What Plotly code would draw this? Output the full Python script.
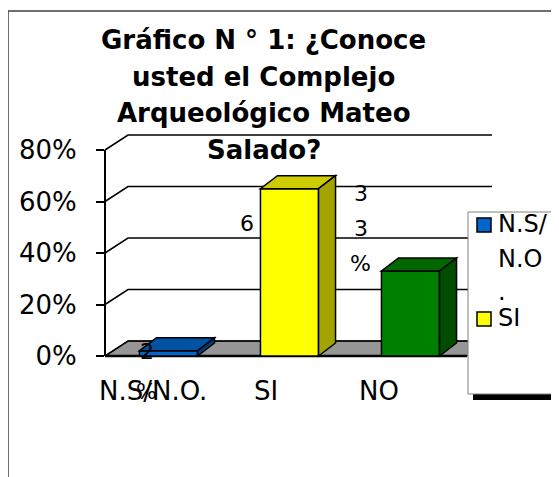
import plotly.graph_objects as go

# ---------------- data ----------------
CATEGORIES = ["N.S/N.O.", "SI", "NO"]
VALUES = [2, 65, 33]                      # percent
Y_TICKS = [0, 20, 40, 60, 80]
TITLE_LINES = ["Gráfico N ° 1: ¿Conoce", "usted el Complejo", "Arqueológico Mateo", "Salado?"]
LEGEND_ITEMS = ["N.S/N.O.", "SI"]          # the visible legend entries (NO is cut off)

# ---------------- style ----------------
FRONT = ["#0066CC", "#FFFF00", "#008000"]
TOP = ["#0052A3", "#CCCC00", "#006600"]
SIDE = ["#003D7A", "#A3A300", "#004D00"]
FLOOR = "#969696"
FONT = "DejaVu Sans"

OFF = 8                                   # page body margin of the browser
W, H = 559 - OFF, 477 - OFF
PLOT_L, PLOT_R, PLOT_T, PLOT_B = 105, 492, 110, 360   # window pixels
Y0_PX, PX_PER_PCT = 356, 2.575
CAT0_PX, PX_PER_CAT = 168.5, 121
BAR_W = 0.48
BAR_DX, BAR_DY = 17 / PX_PER_CAT, 13 / PX_PER_PCT
WALL_DX_PX, WALL_DY = 23, 15 / PX_PER_PCT

def px_x(px):  # window pixel -> paper x
    return (px - PLOT_L) / (PLOT_R - PLOT_L)

def px_y(py):  # window pixel -> paper y
    return (PLOT_B - py) / (PLOT_B - PLOT_T)

x_range = [(PLOT_L - CAT0_PX) / PX_PER_CAT, (PLOT_R - CAT0_PX) / PX_PER_CAT]
y_range = [(Y0_PX - PLOT_B) / PX_PER_PCT, (Y0_PX - PLOT_T) / PX_PER_PCT]

fig = go.Figure()
xs = list(range(len(CATEGORIES)))
fig.add_trace(go.Bar(
    x=xs, y=VALUES, width=BAR_W,
    marker=dict(color=FRONT, line=dict(color="black", width=1.5)),
    hoverinfo="skip", showlegend=False,
))

shapes = []
# chart border
shapes.append(dict(type="rect", xref="paper", yref="paper",
                   x0=px_x(8), x1=px_x(640), y0=px_y(11), y1=px_y(560),
                   line=dict(color="#404040", width=1.5), fillcolor="rgba(0,0,0,0)", layer="below"))
# floor
wdx = px_x(PLOT_L + WALL_DX_PX)
fl_r_front, fl_r_back = px_x(467), px_x(490)
shapes.append(dict(type="path", xref="paper", yref="y",
                   path=f"M 0,0 L {wdx},{WALL_DY} L {fl_r_back},{WALL_DY} L {fl_r_front},0 Z",
                   fillcolor=FLOOR, line=dict(color="black", width=1), layer="below"))
# back-wall gridlines with side-wall diagonals
for t in Y_TICKS:
    shapes.append(dict(type="path", xref="paper", yref="y",
                       path=f"M 0,{t} L {wdx},{t + WALL_DY} L 1,{t + WALL_DY}",
                       line=dict(color="black", width=1.5), layer="below"))
# front value axis and floor front edge
shapes.append(dict(type="line", xref="paper", yref="y", x0=0, x1=0, y0=0, y1=Y_TICKS[-1],
                   line=dict(color="black", width=2), layer="below"))
shapes.append(dict(type="line", xref="paper", yref="y", x0=0, x1=fl_r_front, y0=0, y1=0,
                   line=dict(color="black", width=2.5), layer="below"))

# 3-D faces of bars
for i, v in enumerate(VALUES):
    l, r = i - BAR_W / 2, i + BAR_W / 2
    shapes.append(dict(type="path", xref="x", yref="y",
                       path=f"M {l},{v} L {r},{v} L {r + BAR_DX},{v + BAR_DY} L {l + BAR_DX},{v + BAR_DY} Z",
                       fillcolor=TOP[i], line=dict(color="black", width=1.5), layer="above"))
    shapes.append(dict(type="path", xref="x", yref="y",
                       path=f"M {r},0 L {r},{v} L {r + BAR_DX},{v + BAR_DY} L {r + BAR_DX},{BAR_DY} Z",
                       fillcolor=SIDE[i], line=dict(color="black", width=1.5), layer="above"))

# legend (drawn by hand: it is clipped by the chart edge in the reference)
shapes.append(dict(type="rect", xref="paper", yref="paper",
                   x0=px_x(473), x1=px_x(562), y0=px_y(400), y1=px_y(216),
                   fillcolor="black", line=dict(width=0), layer="above"))
shapes.append(dict(type="rect", xref="paper", yref="paper",
                   x0=px_x(468), x1=px_x(555), y0=px_y(394), y1=px_y(212),
                   fillcolor="white", line=dict(color="#808080", width=1), layer="above"))
legend_sq_y = [218, 312]
for k, name in enumerate(LEGEND_ITEMS):
    shapes.append(dict(type="rect", xref="paper", yref="paper",
                       x0=px_x(477), x1=px_x(491), y0=px_y(legend_sq_y[k] + 14), y1=px_y(legend_sq_y[k]),
                       fillcolor=FRONT[CATEGORIES.index(name)], line=dict(color="black", width=1.5),
                       layer="above"))

annotations = []
# title
for k, line in enumerate(TITLE_LINES):
    annotations.append(dict(text=line, xref="paper", yref="paper",
                            x=px_x(263.5), y=px_y(40 + 36.5 * k), xanchor="center", yanchor="middle",
                            showarrow=False, font=dict(family=FONT, size=26, color="black", weight="bold")))
# category labels
for i, c in enumerate(CATEGORIES):
    annotations.append(dict(text=c, xref="x", yref="paper",
                            x=(153 + 113 * i - CAT0_PX) / PX_PER_CAT, y=px_y(391),
                            xanchor="center", yanchor="middle", showarrow=False,
                            font=dict(family=FONT, size=26, color="black")))
# data labels (wrapped one character per line as in the reference)
label_style = [  # (x offset px, first-line y px relative to bar top, line spacing, visible lines)
    (-22, 1, 40, 2),
    (-43, 35, 35, 1),
    (-50, -78, 35, 3),
]
for i, v in enumerate(VALUES):
    dxp, y0, step, n = label_style[i]
    for j, ch in enumerate(list(f"{v}%")[:n]):
        annotations.append(dict(text=ch, xref="x", yref="y", x=i, y=v,
                                xshift=dxp, yshift=-(y0 + step * j),
                                xanchor="center", yanchor="middle", showarrow=False,
                                font=dict(family=FONT, size=22, color="black")))
# legend text
legend_lines = [["N.S/", "N.O", "."], ["SI"]]
legend_text_y = [[224, 259, 292], [318]]
for k in range(len(LEGEND_ITEMS)):
    for line, yy in zip(legend_lines[k], legend_text_y[k]):
        annotations.append(dict(text=line, xref="paper", yref="paper", x=px_x(496), y=px_y(yy),
                                xanchor="left", yanchor="middle", showarrow=False,
                                font=dict(family=FONT, size=24, color="black")))

fig.update_layout(
    width=W, height=H,
    margin=dict(l=PLOT_L - OFF, r=(W + OFF) - PLOT_R, t=PLOT_T - OFF, b=(H + OFF) - PLOT_B, pad=0),
    paper_bgcolor="white", plot_bgcolor="white",
    showlegend=False,
    xaxis=dict(range=x_range, visible=False, fixedrange=True),
    yaxis=dict(range=y_range, tickmode="array", tickvals=Y_TICKS,
               ticktext=[f"{t}%" for t in Y_TICKS],
               ticks="outside", ticklen=8, tickwidth=1.5, tickcolor="black",
               ticklabelstandoff=14,
               showgrid=False, zeroline=False, showline=False,
               tickfont=dict(family=FONT, size=26, color="black"), fixedrange=True),
    shapes=shapes, annotations=annotations,
)

fig.write_html("out.html")
